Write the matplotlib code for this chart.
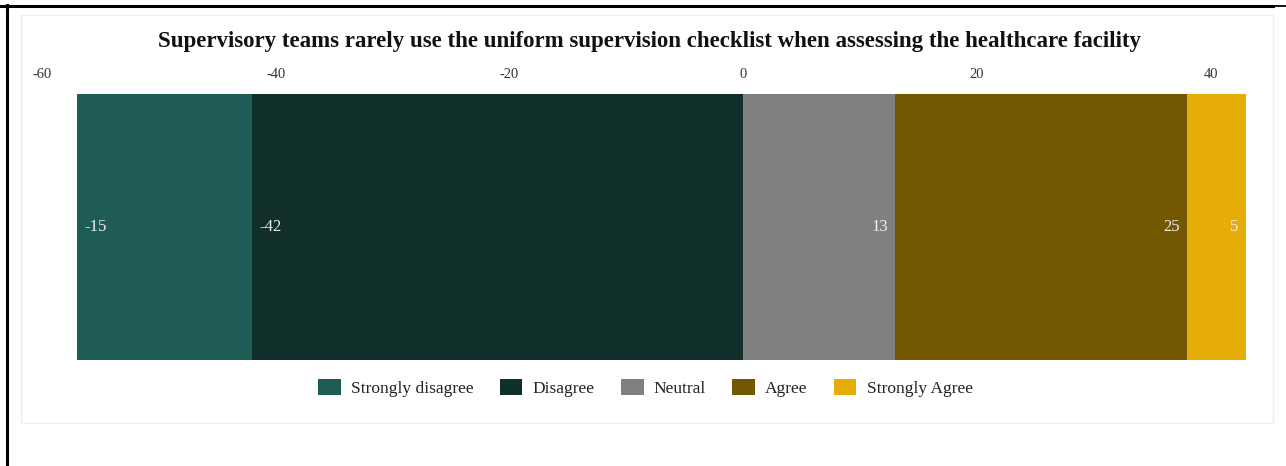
import matplotlib.pyplot as plt
from matplotlib.patches import Patch, Rectangle
from matplotlib.lines import Line2D

plt.rcParams["font.family"] = ["Liberation Serif", "DejaVu Serif"]

categories = ["Strongly disagree", "Disagree", "Neutral", "Agree", "Strongly Agree"]
values = [-15, -42, 13, 25, 5]
colors = ["#1f5c55", "#102e2a", "#808080", "#735600", "#e6ac08"]
ticks = [-60, -40, -20, 0, 20, 40]
title = ("Supervisory teams rarely use the uniform supervision checklist "
         "when assessing the healthcare facility")


def main():
    W, H = 1286, 466
    fig = plt.figure(figsize=(W / 100, H / 100), dpi=100)
    fig.patch.set_facecolor("white")

    # card behind the chart
    fig.patches.append(Rectangle((21 / W, 1 - 423 / H), (1273 - 21) / W, (423 - 15) / H,
                                 transform=fig.transFigure, facecolor="white",
                                 edgecolor="#eeeeee", lw=1, zorder=-1))
    # page frame lines
    fig.lines.append(Line2D([0, 1273 / W], [1 - 5.5 / H, 1 - 5.5 / H],
                            transform=fig.transFigure, color="black", lw=2.2))
    fig.lines.append(Line2D([1273 / W, 1], [1 - 6 / H, 1 - 6 / H],
                            transform=fig.transFigure, color="black", lw=1.3))
    fig.lines.append(Line2D([7 / W, 7 / W], [0, 1 - 5 / H],
                            transform=fig.transFigure, color="black", lw=2.2))

    xmin, xmax = -60, 44
    x0, px = 42, 11.685
    ax = fig.add_axes([x0 / W, 1 - 360 / H, (xmax - xmin) * px / W, 266 / H])
    ax.set_zorder(1)

    # negatives stack leftwards from zero, positives rightwards
    neg_left = 0
    pos_left = 0
    order = [1, 0, 2, 3, 4]
    for i in order:
        v = values[i]
        if v < 0:
            start = neg_left
            neg_left += v
        else:
            start = pos_left
            pos_left += v
        ax.barh(0, v, left=start, height=1, color=colors[i], edgecolor="none")
        end = start + v
        if v < 0:
            ax.annotate(str(v), (end, 0), xytext=(5, 0), textcoords="offset points",
                        ha="left", va="center", color="#f0f0f0", fontsize=12)
        else:
            ax.annotate(str(v), (end, 0), xytext=(-5, 0), textcoords="offset points",
                        ha="right", va="center", color="#f0f0f0", fontsize=12)

    ax.set_xlim(xmin, xmax)
    ax.set_ylim(-0.5, 0.5)
    ax.xaxis.tick_top()
    ax.set_xticks(ticks)
    ax.set_xticklabels([str(t) for t in ticks])
    ax.tick_params(axis="x", length=0, pad=9, labelsize=10.5, labelcolor="#333333")
    ax.set_yticks([])
    for s in ax.spines.values():
        s.set_visible(False)
    ax.set_facecolor("none")

    fig.text(650 / W, 1 - 42 / H, title, ha="center", va="center",
             fontsize=16.5, fontweight="bold", color="#111111")

    handles = [Patch(facecolor=c, edgecolor="none", label=n) for n, c in zip(categories, colors)]
    fig.legend(handles=handles, loc="center", bbox_to_anchor=(645.5 / W, 1 - 388 / H),
               ncol=5, frameon=False, fontsize=12.5, handlelength=1.3, handleheight=1.0,
               handletextpad=0.6, columnspacing=1.5, labelcolor="#222222")

    fig.savefig("out.png", dpi=100, facecolor="white")


if __name__ == "__main__":
    main()
